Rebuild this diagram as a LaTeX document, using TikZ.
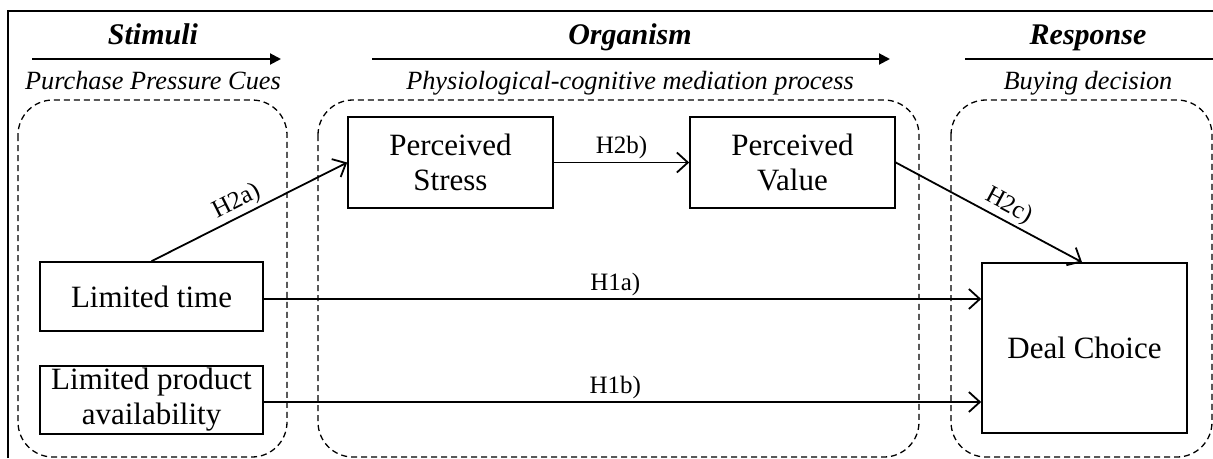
\documentclass[tikz,border=0pt]{standalone}
\usepackage{fontspec}
\setmainfont{Liberation Serif}
\usetikzlibrary{arrows.meta}
\begin{document}
\begin{tikzpicture}[x=1pt,y=-1pt,
  frame/.style={line width=2.2pt},
  group/.style={draw, line width=1.3pt, dash pattern=on 6pt off 4pt, rounded corners=35pt},
  box/.style={draw, line width=1.6pt, align=center, inner sep=0pt,
    font=\fontsize{31}{35}\selectfont},
  head/.style={anchor=base, font=\fontsize{30}{34}\selectfont\bfseries\itshape},
  sub/.style={anchor=base, font=\fontsize{26.3}{30}\selectfont\itshape},
  phase/.style={line width=2pt, -{Triangle[length=11pt,width=11pt]}},
  link/.style={line width=1.8pt, -{Straight Barb[length=11pt,width=20pt]}},
  lab/.style={font=\fontsize{25}{30}\selectfont, inner sep=2.5pt}]
\useasboundingbox (0,0) rectangle (1213,458);

% outer frame (open at the right and bottom)
\draw[frame] (8,458) -- (8,11) -- (1213,11);

% stage headers
\node[head] (hS) at (153,44) {Stimuli};
\node[head] (hO) at (630,44) {Organism};
\node[head] (hR) at (1088,44) {Response};
\coordinate (sA) at (32,59);  \coordinate (sB) at (281,59);
\coordinate (oA) at (372,59); \coordinate (oB) at (890,59);
\coordinate (rA) at (965,59); \coordinate (rB) at (1213,59);
\draw[phase] (sA) -- (sB);
\draw[phase] (oA) -- (oB);
\draw[line width=2pt] (rA) -- (rB);
\node[sub] (tS) at (153,89) {Purchase Pressure Cues};
\node[sub] (tO) at (630,89) {Physiological-cognitive mediation process};
\node[sub] (tR) at (1088,89) {Buying decision};

% dashed stage groups
\draw[group] (18,100) rectangle (287,457);
\draw[group] (318,100) rectangle (919,457);
\draw[group] (951,100) rectangle (1212,457);

% constructs
\node[box, minimum width=205pt, minimum height=91pt] (ps) at (450.5,162.5) {Perceived\\Stress};
\node[box, minimum width=205pt, minimum height=91pt] (pv) at (792.5,162.5) {Perceived\\Value};
\node[box, minimum width=223pt, minimum height=69pt] (lt) at (151.5,296.5) {Limited time};
\node[box, minimum width=223pt, minimum height=68pt] (la) at (151.5,400) {Limited product\\availability};
\node[box, minimum width=205pt, minimum height=170pt] (dc) at (1084.5,348) {Deal Choice};

% start points of the direct effects
\coordinate (a1) at ([yshift=-2.5pt]lt.east);
\coordinate (b1) at ([yshift=-2pt]la.east);

% hypotheses
\draw[link] (lt.north) -- node[lab, sloped, above, pos=0.47] (l2a) {H2a)} (ps.west);
\draw[link] (ps.east) -- node[lab, above] (l2b) {H2b)} (pv.west);
\draw[link] (pv.east) -- node[lab, sloped, above, pos=0.57] (l2c) {H2c)} ([xshift=-2.5pt]dc.north);
\draw[link] (a1) -- node[lab, above, pos=0.49] (l1a) {H1a)} (a1 -| dc.west);
\draw[link] (b1) -- node[lab, above, pos=0.49] (l1b) {H1b)} (b1 -| dc.west);
\end{tikzpicture}
\end{document}
